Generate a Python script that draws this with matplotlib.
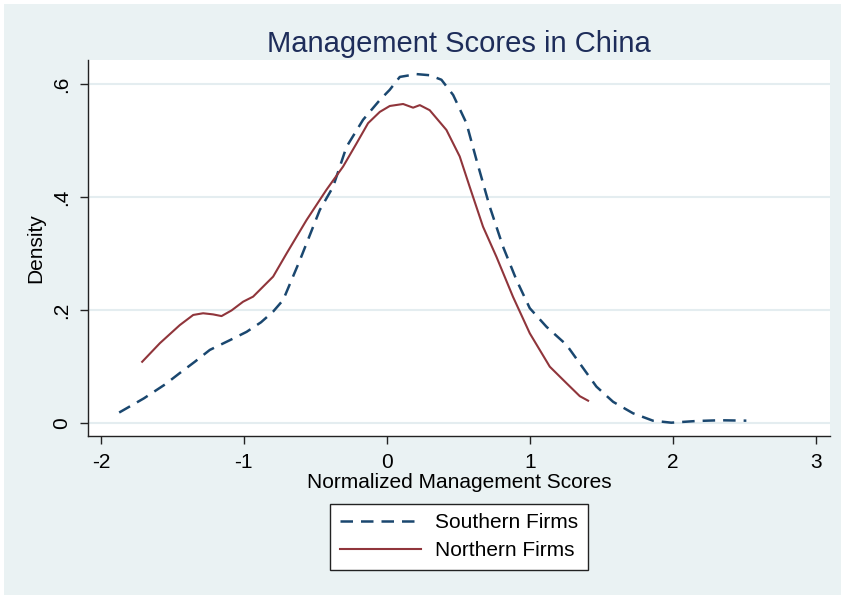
import matplotlib.pyplot as plt
from matplotlib.patches import Rectangle

plt.rcParams['font.family'] = ['Liberation Sans', 'DejaVu Sans']

# Southern firms density (dashed)
south_x = [-1.872, -1.70, -1.55, -1.448, -1.343, -1.238, -1.10, -0.981, -0.88, -0.795, -0.725,
           -0.608, -0.469, -0.376, -0.282, -0.166, -0.049, 0.02, 0.091, 0.208, 0.30, 0.382,
           0.464, 0.557, 0.627, 0.72, 0.813, 0.907, 1.0, 1.117, 1.257, 1.35, 1.466, 1.583,
           1.722, 1.862, 1.99, 2.166, 2.329, 2.515]
south_y = [0.018, 0.043, 0.068, 0.088, 0.108, 0.129, 0.146, 0.161, 0.178, 0.197, 0.2175,
           0.288, 0.377, 0.418, 0.489, 0.537, 0.572, 0.590, 0.613, 0.618, 0.616, 0.608,
           0.581, 0.531, 0.466, 0.383, 0.312, 0.253, 0.203, 0.170, 0.138, 0.105, 0.064, 0.037,
           0.0167, 0.0035, 0.0, 0.003, 0.0043, 0.0036]

# Northern firms density (solid)
north_x = [-1.711, -1.587, -1.448, -1.354, -1.285, -1.215, -1.156, -1.086, -1.005, -0.935,
           -0.795, -0.701, -0.562, -0.422, -0.306, -0.212, -0.131, -0.049, 0.021, 0.114,
           0.184, 0.231, 0.30, 0.417, 0.51, 0.58, 0.673, 0.767, 0.883, 1.0, 1.14, 1.257,
           1.35, 1.408]
north_y = [0.108, 0.141, 0.173, 0.191, 0.194, 0.192, 0.189, 0.199, 0.2145, 0.2235,
           0.259, 0.300, 0.359, 0.413, 0.454, 0.495, 0.531, 0.551, 0.5615, 0.565,
           0.5585, 0.563, 0.554, 0.519, 0.472, 0.418, 0.3475, 0.294, 0.223, 0.1585, 0.0993, 0.070,
           0.047, 0.039]

x_ticks = [-2, -1, 0, 1, 2, 3]
y_ticks = [0, 0.2, 0.4, 0.6]
y_tick_labels = ['0', '.2', '.4', '.6']

bg = '#EAF2F3'
fig = plt.figure(figsize=(8.41, 5.95), dpi=100, facecolor='white')
fig.patches.append(Rectangle((4 / 841, 0), 837 / 841, 591 / 595, transform=fig.transFigure,
                             facecolor=bg, edgecolor='none', zorder=-10))

ax = fig.add_axes([88 / 841, (595 - 436) / 595, 742 / 841, 376 / 595])
ax.set_facecolor('white')

ax.plot(south_x, south_y, color='#1a476f', lw=1.8, dashes=(5, 3.2), label='Southern Firms')
ax.plot(north_x, north_y, color='#90353b', lw=1.5, label='Northern Firms')

ax.set_xlim(-2.09, 3.10)
ax.set_ylim(-0.0236, 0.643)
ax.set_xticks(x_ticks)
ax.set_xticklabels([str(t) for t in x_ticks])
ax.set_yticks(y_ticks)
ax.set_yticklabels(y_tick_labels, rotation=90, va='center')
ax.tick_params(length=6, width=1, labelsize=15, color='#222222', pad=6)
ax.grid(axis='y', color='#E4EDF0', lw=1.5)
ax.set_axisbelow(True)
for s in ['top', 'right']:
    ax.spines[s].set_visible(False)
for s in ['left', 'bottom']:
    ax.spines[s].set_color('#222222')
    ax.spines[s].set_linewidth(1)

ax.set_xlabel('Normalized Management Scores', fontsize=15, labelpad=1)
ax.set_ylabel('Density', fontsize=15, labelpad=5)
ax.set_title('Management Scores in China', fontsize=21, color='#1e2d5a', pad=6)

leg = ax.legend(loc='upper center', bbox_to_anchor=(0.5, -0.152), ncol=1, fontsize=15,
                frameon=True, fancybox=False, edgecolor='#222222', framealpha=1,
                handlelength=3.9, borderpad=0.45, labelspacing=0.45, handletextpad=0.7)
leg.get_frame().set_linewidth(1)

fig.savefig('out.png', dpi=100, facecolor=fig.get_facecolor())
